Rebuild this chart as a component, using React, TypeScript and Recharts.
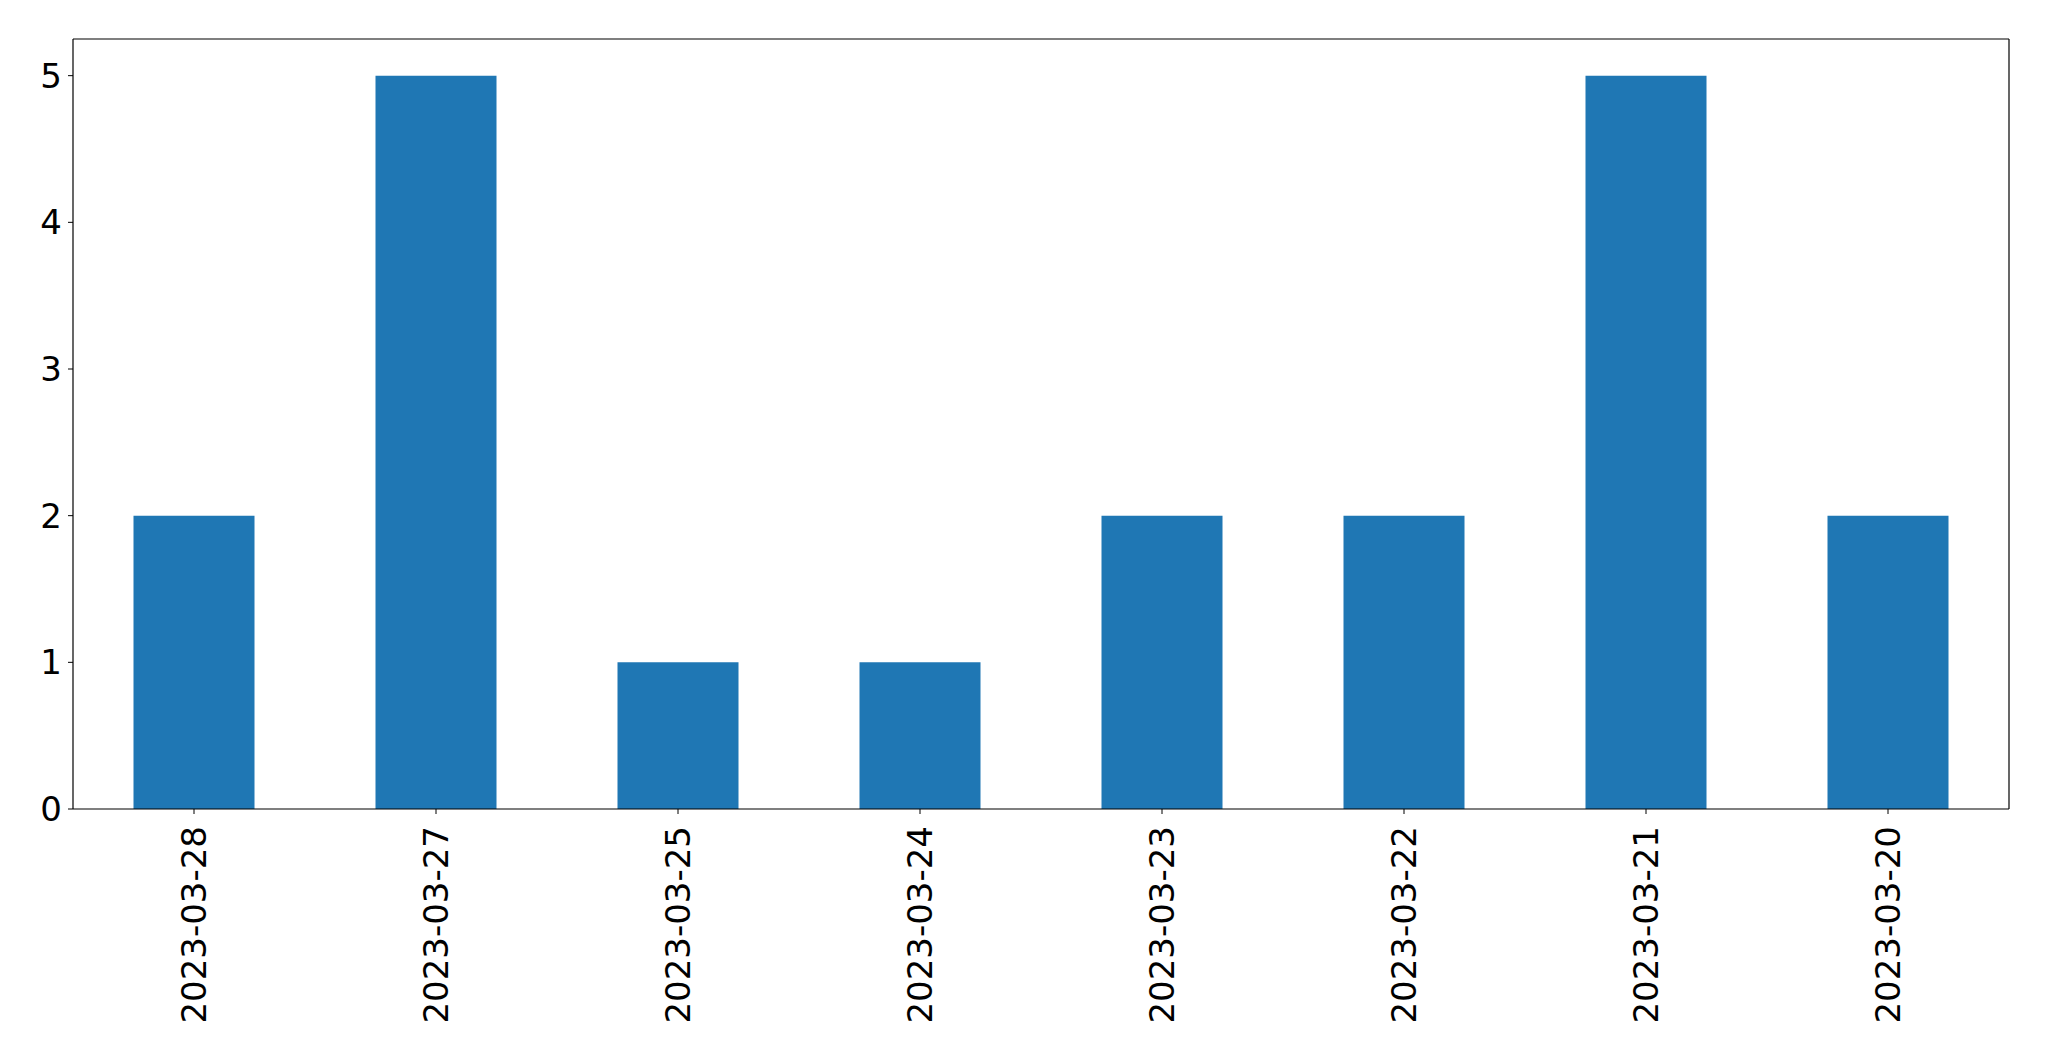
import React from "react"
import { BarChart, Bar, XAxis, YAxis } from "recharts"

const dates = [
  "2023-03-28",
  "2023-03-27",
  "2023-03-25",
  "2023-03-24",
  "2023-03-23",
  "2023-03-22",
  "2023-03-21",
  "2023-03-20",
]
const counts = [2, 5, 1, 1, 2, 2, 5, 2]
const yTicks = [0, 1, 2, 3, 4, 5]

const data = dates.map((d, i) => ({ date: d, count: counts[i] }))

const FONT = "'DejaVu Sans', sans-serif"

function DateTick(props: any) {
  const { x, y, payload } = props
  return (
    <g transform={`translate(${x},${y + 10})`}>
      <text
        transform="rotate(-90)"
        textAnchor="end"
        dy="0.36em"
        fontFamily={FONT}
        fontSize={34}
        fill="#000"
      >
        {payload.value}
      </text>
    </g>
  )
}

export default function App() {
  return (
    <div style={{ position: "absolute", left: 0, top: 0, background: "#fff" }}>
      <BarChart
        width={2049}
        height={1061}
        data={data}
        margin={{ top: 38, right: 39, left: 0, bottom: 0 }}
        barCategoryGap="25%"
      >
        <XAxis
          dataKey="date"
          height={252}
          interval={0}
          tick={<DateTick />}
          tickSize={5}
          tickLine={{ stroke: "#000" }}
          axisLine={{ stroke: "#000", strokeWidth: 1.2 }}
        />
        <XAxis
          xAxisId="top"
          dataKey="date"
          orientation="top"
          height={1}
          tick={false}
          tickLine={false}
          axisLine={{ stroke: "#000", strokeWidth: 1.2 }}
        />
        <YAxis
          width={73}
          domain={[0, 5.25]}
          ticks={yTicks}
          tickSize={5}
          tickMargin={6}
          tickLine={{ stroke: "#000" }}
          axisLine={{ stroke: "#000", strokeWidth: 1.2 }}
          tick={{ fontFamily: FONT, fontSize: 34, fill: "#000" }}
        />
        <YAxis
          yAxisId="right"
          orientation="right"
          width={1}
          domain={[0, 5.25]}
          tick={false}
          tickLine={false}
          axisLine={{ stroke: "#000", strokeWidth: 1.2 }}
        />
        <Bar dataKey="count" fill="#1f77b4" isAnimationActive={false} />
      </BarChart>
    </div>
  )
}
